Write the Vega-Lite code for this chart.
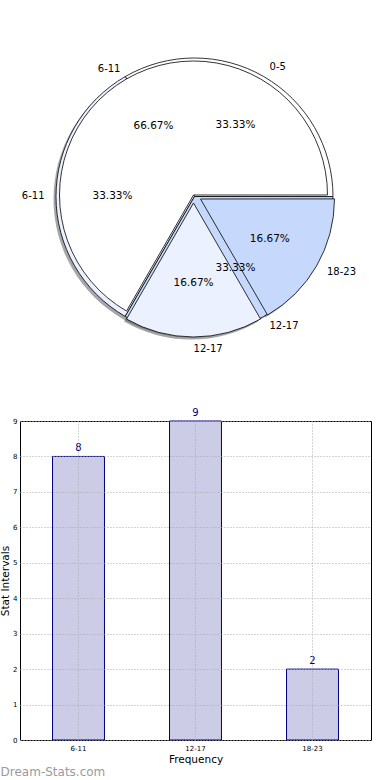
{
  "$schema": "https://vega.github.io/schema/vega-lite/v6.json",
  "padding": 0,
  "background": "white",
  "spacing": 17,
  "config": {"font": "DejaVu Sans", "view": {"stroke": null}},
  "datasets": {
    "pieA": [
      {"cat": "0-5", "share": 0.3333},
      {"cat": "6-11", "share": 0.3333},
      {"cat": "12-17", "share": 0.3333}
    ],
    "pieB": [
      {"cat": "6-11", "share": 0.6667},
      {"cat": "12-17", "share": 0.1667},
      {"cat": "18-23", "share": 0.1667}
    ],
    "bars": [
      {"interval": "6-11", "freq": 8},
      {"interval": "12-17", "freq": 9},
      {"interval": "18-23", "freq": 2}
    ]
  },
  "vconcat": [
    {
      "width": 351,
      "height": 390,
      "view": {"stroke": null},
      "layer": [
        {
          "data": {"name": "pieA"},
          "transform": [{"window": [{"op": "row_number", "as": "i"}]}],
          "mark": {"type": "arc", "radius": 138.5, "fill": "#4d4d4d", "opacity": 0.5,
                   "x": 172, "y": 199},
          "encoding": {
            "theta": {"field": "share", "type": "quantitative", "stack": true,
                      "scale": {"domain": [0, 1], "range": [1.5707963, -4.712389]}},
            "order": {"field": "i", "type": "quantitative"}
          }
        },
        {
          "data": {"name": "pieB"},
          "transform": [{"window": [{"op": "row_number", "as": "i"}]}],
          "mark": {"type": "arc", "radius": 134, "fill": "#4d4d4d", "opacity": 0.5,
                   "x": {"expr": "171 + (datum.cat == '18-23' ? 7 : 0)"},
                   "y": {"expr": "197.5 + (datum.cat == '18-23' ? 4 : datum.cat == '12-17' ? 8 : 0)"}},
          "encoding": {
            "theta": {"field": "share", "type": "quantitative", "stack": true},
            "order": {"field": "i", "type": "quantitative"}
          }
        },
        {
          "data": {"name": "pieA"},
          "transform": [{"window": [{"op": "row_number", "as": "i"}]}],
          "mark": {"type": "arc", "radius": 138.5, "stroke": "black", "strokeWidth": 0.8,
                   "x": 174.5, "y": 196.5},
          "encoding": {
            "theta": {"field": "share", "type": "quantitative", "stack": true},
            "order": {"field": "i", "type": "quantitative"},
            "color": {"field": "cat", "type": "nominal", "legend": null,
                      "scale": {"domain": ["0-5", "6-11", "12-17"], "range": ["#ffffff", "#ebf1fe", "#c6d9fd"]}}
          }
        },
        {
          "data": {"name": "pieB"},
          "transform": [{"window": [{"op": "row_number", "as": "i"}]}],
          "mark": {"type": "arc", "radius": 134, "stroke": "black", "strokeWidth": 0.8,
                   "x": {"expr": "173.5 + (datum.cat == '18-23' ? 7 : 0)"},
                   "y": {"expr": "195 + (datum.cat == '18-23' ? 4 : datum.cat == '12-17' ? 8 : 0)"}},
          "encoding": {
            "theta": {"field": "share", "type": "quantitative", "stack": true},
            "order": {"field": "i", "type": "quantitative"},
            "color": {"field": "cat", "type": "nominal", "legend": null,
                      "scale": {"domain": ["6-11", "12-17", "18-23"], "range": ["#ffffff", "#ebf1fe", "#c6d9fd"]}}
          }
        },
        {
          "data": {"name": "pieA"},
          "transform": [{"window": [{"op": "row_number", "as": "i"}]}],
          "mark": {"type": "text", "radius": 150, "fontSize": 10, "baseline": "middle", "color": "black",
                   "align": {"expr": "datum.cat == '6-11' ? 'right' : 'left'"},
                   "x": 174.5, "y": 196.5},
          "encoding": {
            "theta": {"field": "share", "type": "quantitative", "stack": true},
            "order": {"field": "i", "type": "quantitative"},
            "text": {"field": "cat", "type": "nominal"}
          }
        },
        {
          "data": {"name": "pieA"},
          "transform": [{"window": [{"op": "row_number", "as": "i"}]}],
          "mark": {"type": "text", "radius": 82, "fontSize": 10.5, "baseline": "middle", "align": "center", "color": "black",
                   "x": 174.5, "y": 196.5},
          "encoding": {
            "theta": {"field": "share", "type": "quantitative", "stack": true},
            "order": {"field": "i", "type": "quantitative"},
            "text": {"field": "share", "type": "quantitative", "format": ".2%"}
          }
        },
        {
          "data": {"name": "pieB"},
          "transform": [{"window": [{"op": "row_number", "as": "i"}]}],
          "mark": {"type": "text", "radius": 146, "fontSize": 10, "baseline": "middle", "color": "black",
                   "align": {"expr": "datum.cat == '6-11' ? 'right' : 'left'"},
                   "x": {"expr": "173.5 + (datum.cat == '18-23' ? 7 : 0)"},
                   "y": {"expr": "195 + (datum.cat == '18-23' ? 4 : datum.cat == '12-17' ? 8 : 0)"}},
          "encoding": {
            "theta": {"field": "share", "type": "quantitative", "stack": true},
            "order": {"field": "i", "type": "quantitative"},
            "text": {"field": "cat", "type": "nominal"}
          }
        },
        {
          "data": {"name": "pieB"},
          "transform": [{"window": [{"op": "row_number", "as": "i"}]}],
          "mark": {"type": "text", "radius": 80, "fontSize": 10.5, "baseline": "middle", "align": "center", "color": "black",
                   "x": {"expr": "173.5 + (datum.cat == '18-23' ? 7 : 0)"},
                   "y": {"expr": "195 + (datum.cat == '18-23' ? 4 : datum.cat == '12-17' ? 8 : 0)"}},
          "encoding": {
            "theta": {"field": "share", "type": "quantitative", "stack": true},
            "order": {"field": "i", "type": "quantitative"},
            "text": {"field": "share", "type": "quantitative", "format": ".2%"}
          }
        }
      ],
      "resolve": {"scale": {"color": "independent"}}
    },
    {
      "width": 351,
      "height": 319,
      "view": {"stroke": "black", "strokeWidth": 1},
      "data": {"name": "bars"},
      "title": {"text": "Dream-Stats.com", "orient": "bottom", "anchor": "start", "frame": "bounds",
                "fontSize": 12, "fontWeight": "normal", "color": "#9a9a9a", "offset": 2},
      "encoding": {
        "x": {"field": "interval", "type": "nominal", "sort": null,
              "scale": {"paddingInner": 0, "paddingOuter": 0},
              "axis": {"title": "Frequency", "titleFontSize": 10.5, "titleFontWeight": "normal", "titlePadding": 3,
                       "labelFontSize": 7, "labelAngle": 0, "labelPadding": 4, "ticks": false, "domain": false,
                       "grid": true, "gridDash": [1, 2], "gridColor": "#aaaaaa", "gridWidth": 1, "zindex": 1}},
        "y": {"field": "freq", "type": "quantitative",
              "scale": {"domain": [0, 9], "nice": false},
              "axis": {"title": "Stat Intervals", "titleFontSize": 10.5, "titleFontWeight": "normal", "titlePadding": 2,
                       "values": [0, 1, 2, 3, 4, 5, 6, 7, 8, 9], "labelFontSize": 7, "labelPadding": 3,
                       "ticks": false, "domain": false,
                       "grid": true, "gridDash": [1, 2], "gridColor": "#aaaaaa", "gridWidth": 1, "zindex": 1}}
      },
      "layer": [
        {"mark": {"type": "bar", "fill": "#ccccE6", "stroke": "#000080", "strokeWidth": 1, "width": {"band": 0.444}}},
        {"mark": {"type": "text", "color": "#000080", "fontSize": 10, "baseline": "bottom", "dy": -3},
         "encoding": {"text": {"field": "freq", "type": "quantitative"}}}
      ]
    }
  ]
}
